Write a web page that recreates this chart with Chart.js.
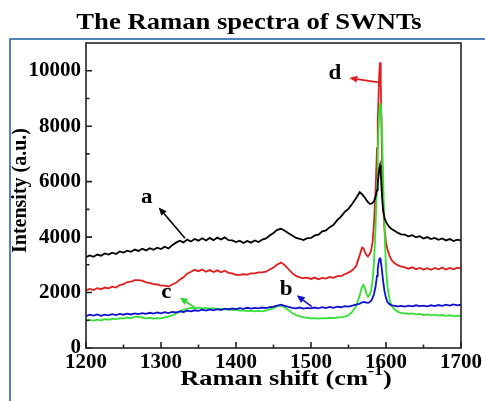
<!DOCTYPE html>
<html><head><meta charset="utf-8">
<script src="https://cdn.jsdelivr.net/npm/chart.js@4.4.0/dist/chart.umd.min.js"></script>
<style>html,body{margin:0;padding:0;background:#fff;}#wrap{width:485px;height:401px;position:relative}</style>
</head><body><div id="wrap"><canvas id="c" width="485" height="401"></canvas></div>
<script>
const chartTitle = 'The Raman spectra of SWNTs';
const xTitle = 'Raman shift (cm';
const xTitleSup = '-1';
const yTitle = 'Intensity (a.u.)';
const xTicks = [1200, 1300, 1400, 1500, 1600, 1700];
const xMinorTicks = [1250, 1350, 1450, 1550, 1650];
const yTicks = [0, 2000, 4000, 6000, 8000, 10000];
const yMinorTicks = [1000, 3000, 5000, 7000, 9000];

const wavenumbers = [
 1200,1205,1210,1215,1220,1225,1230,1235,1240,1245,
 1250,1255,1260,1265,1270,1275,1280,1285,1290,1295,
 1300,1305,1310,1315,1320,1325,1330,1335,1340,1345,
 1350,1355,1360,1365,1370,1375,1380,1385,1390,1395,
 1400,1405,1410,1415,1420,1425,1430,1435,1440,1445,
 1450,1455,1460,1465,1470,1475,1480,1485,1490,1495,
 1500,1505,1510,1515,1520,1525,1530,1535,1540,1545,
 1550,
 1555,1560,1565,1568,1570,1572,1574,1576,1578,1580,
 1582,1584,1586,1588,1589,1590,1591,1592,1593,1594,
 1595,1596,1598,1600,1602,1605,1608,1612,1616,1620,
 1625,1630,1635,1640,1645,1650,1655,1660,1665,1670,1675,1680,1685,1690,1695,1700
];
const seriesA = [
 3280,3340,3290,3370,3330,3410,3370,3440,3390,3480,
 3440,3510,3470,3550,3500,3580,3520,3600,3540,3620,
 3570,3650,3590,3710,3800,3870,3810,3910,3840,3930,
 3870,3960,3880,3970,3890,3980,3910,3990,3890,3880,
 3820,3870,3790,3860,3800,3880,3820,3910,3950,4060,
 4150,4260,4300,4230,4140,4060,3970,3940,3890,3960,
 3970,4060,4090,4210,4240,4360,4440,4610,4740,4910,
 5020,
 5200,5400,5620,5550,5480,5420,5330,5260,5210,5200,
 5230,5300,5450,5700,5900,6200,6450,6580,6300,5800,
 5350,5000,4700,4550,4450,4350,4280,4220,4150,4100,
 4090,4030,4070,3990,4030,3950,4000,3930,3970,3900,3950,3880,3930,3860,3910,3880
];
const seriesB = [
 1150,1200,1170,1210,1160,1200,1180,1220,1190,1230,
 1200,1240,1210,1250,1220,1260,1230,1270,1240,1280,
 1250,1290,1260,1300,1280,1320,1300,1350,1320,1360,
 1340,1380,1350,1390,1360,1400,1370,1420,1390,1430,
 1400,1440,1410,1450,1420,1450,1430,1460,1440,1470,
 1490,1530,1560,1520,1480,1450,1430,1460,1420,1450,
 1430,1460,1430,1470,1440,1480,1450,1490,1470,1510,
 1490,
 1530,1560,1600,1640,1660,1650,1640,1630,1650,1700,
 1800,1950,2200,2600,2850,3050,3200,3230,3150,2950,
 2700,2450,2050,1800,1650,1570,1540,1520,1500,1520,
 1490,1530,1500,1540,1510,1530,1500,1540,1510,1550,1520,1560,1530,1570,1540,1560
];
const seriesC = [
 980,1010,990,1020,1000,1040,1020,1060,1040,1080,
 1060,1100,1080,1120,1130,1100,1070,1090,1060,1080,
 1070,1100,1130,1180,1250,1320,1380,1420,1450,1430,
 1460,1430,1450,1420,1440,1400,1420,1390,1400,1370,
 1380,1350,1360,1330,1350,1320,1340,1320,1350,1390,
 1440,1500,1530,1460,1360,1260,1190,1140,1110,1090,
 1070,1080,1060,1080,1070,1090,1080,1100,1110,1130,
 1180,
 1300,1500,1900,2200,2270,2150,1950,1850,1900,2050,
 2400,3100,4300,6000,7000,7900,8500,8800,8820,8300,
 7400,6300,4300,2900,2200,1700,1500,1380,1300,1270,
 1250,1230,1250,1210,1230,1190,1210,1180,1200,1170,1190,1160,1180,1150,1170,1150
];
const seriesD = [
 2080,2130,2090,2160,2120,2180,2150,2210,2180,2270,
 2300,2380,2390,2450,2450,2430,2370,2350,2300,2290,
 2250,2250,2220,2290,2350,2460,2550,2680,2750,2820,
 2770,2830,2750,2810,2740,2800,2730,2790,2710,2690,
 2640,2640,2660,2650,2690,2690,2730,2730,2750,2830,
 2900,3010,3080,2990,2840,2700,2600,2550,2520,2540,
 2490,2540,2480,2530,2500,2560,2530,2590,2590,2660,
 2720,
 2800,2950,3350,3620,3600,3450,3350,3300,3380,3500,
 3800,4500,5600,7200,8200,9000,9900,10300,9600,8000,
 6500,5300,4300,3800,3550,3300,3150,3050,2980,2940,
 2910,2860,2910,2840,2890,2830,2880,2820,2890,2840,2900,2830,2890,2840,2900,2870
];

const seriesNames = ['a', 'b', 'c', 'd'];
const seriesColors = ['#000000', '#1010d0', '#33e033', '#e01e1e'];
const seriesValues = [seriesA, seriesB, seriesC, seriesD];

// annotation: label position, arrow head, arrow tail (in data units)
const annotations = [
 {text:'a', color:'#000000', label:[1281,5400], head:[1297,5070], tail:[1332,3960]},
 {text:'b', color:'#1010d0', label:[1467,2100], head:[1481,1900], tail:[1501,1490]},
 {text:'c', color:'#33d633', label:[1307,1990], head:[1325,1820], tail:[1345,1460]},
 {text:'d', color:'#e01e1e', label:[1532,9880], head:[1551,9740], tail:[1590,9580]}
];

const FONT = '"Liberation Serif", "Times New Roman", serif';

function toPts(vals){ return wavenumbers.map((x,i)=>({x:x, y:vals[i]})); }

const datasets = seriesNames.map((n,i)=>({
  label: n,
  data: toPts(seriesValues[i]),
  borderColor: seriesColors[i],
  backgroundColor: seriesColors[i],
  borderWidth: 1.8,
  pointRadius: 0,
  tension: 0,
  fill: false
}));

function drawArrow(ctx, x1, y1, x2, y2, color){
  ctx.save();
  ctx.strokeStyle = color; ctx.fillStyle = color; ctx.lineWidth = 1.6;
  const ang = Math.atan2(y2-y1, x2-x1);
  const hl = 8, hw = 3.5;
  const bx = x2 - hl*Math.cos(ang), by = y2 - hl*Math.sin(ang);
  ctx.beginPath(); ctx.moveTo(x1,y1); ctx.lineTo(bx,by); ctx.stroke();
  ctx.beginPath();
  ctx.moveTo(x2,y2);
  ctx.lineTo(bx + hw*Math.sin(ang), by - hw*Math.cos(ang));
  ctx.lineTo(bx - hw*Math.sin(ang), by + hw*Math.cos(ang));
  ctx.closePath(); ctx.fill();
  ctx.restore();
}

function stretchedText(ctx, text, cx, y, sx){
  ctx.save();
  ctx.translate(cx, y);
  ctx.scale(sx, 1);
  ctx.fillText(text, 0, 0);
  ctx.restore();
}

const decor = {
  id: 'decor',
  beforeDraw(chart){
    const ctx = chart.ctx;
    ctx.save();
    ctx.fillStyle = '#fff'; ctx.fillRect(0,0,chart.width,chart.height);
    // outer blue box
    ctx.strokeStyle = '#4f81bd'; ctx.lineWidth = 2;
    ctx.beginPath(); ctx.moveTo(10, 402); ctx.lineTo(10, 39); ctx.lineTo(486, 39); ctx.stroke();
    // title
    ctx.fillStyle = '#000'; ctx.font = 'bold 24px ' + FONT;
    ctx.textAlign = 'center'; ctx.textBaseline = 'alphabetic';
    stretchedText(ctx, chartTitle, 249, 29, 1.11);
    ctx.restore();
  },
  afterDatasetsDraw(chart){
    const ctx = chart.ctx, a = chart.chartArea;
    const xs = chart.scales.x, ys = chart.scales.y;
    ctx.save();
    // frame
    ctx.strokeStyle = '#222'; ctx.lineWidth = 1.6;
    ctx.strokeRect(a.left, a.top, a.right - a.left, a.bottom - a.top);
    // inward ticks
    ctx.beginPath();
    xTicks.forEach(v=>{ const p = xs.getPixelForValue(v); ctx.moveTo(p, a.bottom); ctx.lineTo(p, a.bottom-6); });
    xMinorTicks.forEach(v=>{ const p = xs.getPixelForValue(v); ctx.moveTo(p, a.bottom); ctx.lineTo(p, a.bottom-3.5); });
    yTicks.forEach(v=>{ const p = ys.getPixelForValue(v); ctx.moveTo(a.left, p); ctx.lineTo(a.left+6, p); });
    yMinorTicks.forEach(v=>{ const p = ys.getPixelForValue(v); ctx.moveTo(a.left, p); ctx.lineTo(a.left+3.5, p); });
    ctx.stroke();
    // annotations
    annotations.forEach(an=>{
      drawArrow(ctx, xs.getPixelForValue(an.tail[0]), ys.getPixelForValue(an.tail[1]),
                xs.getPixelForValue(an.head[0]), ys.getPixelForValue(an.head[1]), an.color);
      ctx.fillStyle = '#000'; ctx.font = 'bold 20px ' + FONT;
      ctx.textAlign = 'center'; ctx.textBaseline = 'middle';
      stretchedText(ctx, an.text, xs.getPixelForValue(an.label[0]), ys.getPixelForValue(an.label[1]), 1.15);
    });
    // y title
    ctx.fillStyle = '#000';
    ctx.save();
    ctx.translate(21, (a.top + a.bottom)/2 - 5);
    ctx.rotate(-Math.PI/2);
    ctx.font = 'bold 20px ' + FONT; ctx.textAlign = 'center'; ctx.textBaseline = 'middle';
    ctx.fillText(yTitle, 0, 0);
    ctx.restore();
    // x title with superscript
    const sx = 1.2;
    ctx.font = 'bold 22px ' + FONT;
    const w1 = ctx.measureText(xTitle).width;
    ctx.font = 'bold 15px ' + FONT;
    const w2 = ctx.measureText(xTitleSup).width;
    ctx.font = 'bold 22px ' + FONT;
    const w3 = ctx.measureText(')').width;
    const total = w1 + w2 + w3;
    ctx.save();
    ctx.translate(286, 385);
    ctx.scale(sx, 1);
    const x0 = -total/2;
    ctx.textAlign = 'left'; ctx.textBaseline = 'alphabetic';
    ctx.fillText(xTitle, x0, 0);
    ctx.font = 'bold 15px ' + FONT;
    ctx.fillText(xTitleSup, x0 + w1, -10);
    ctx.font = 'bold 22px ' + FONT;
    ctx.fillText(')', x0 + w1 + w2, 0);
    ctx.restore();
    ctx.restore();
  }
};

new Chart(document.getElementById('c'), {
  type: 'line',
  data: { datasets: datasets },
  options: {
    responsive: false,
    animation: false,
    devicePixelRatio: 1,
    layout: { padding: { top: 43, right: 24, bottom: 0, left: 0 } },
    plugins: { legend: { display: false }, tooltip: { enabled: false }, title: { display: false } },
    scales: {
      x: {
        type: 'linear', min: 1200, max: 1700,
        afterBuildTicks: s => { s.ticks = xTicks.map(v => ({ value: v })); },
        afterFit: s => { s.height = 53; },
        grid: { display: false, drawTicks: false },
        border: { display: false },
        ticks: { color: '#000', font: { family: FONT, size: 21, weight: 'bold' }, padding: 2, maxRotation: 0, autoSkip: false, callback: v => String(v) }
      },
      y: {
        type: 'linear', min: 0, max: 11000,
        afterBuildTicks: s => { s.ticks = yTicks.map(v => ({ value: v })); },
        afterFit: s => { s.width = 86; },
        grid: { display: false, drawTicks: false },
        border: { display: false },
        ticks: { color: '#000', font: { family: FONT, size: 21, weight: 'bold' }, padding: 5, callback: v => String(v) }
      }
    }
  },
  plugins: [decor]
});
</script></body></html>
